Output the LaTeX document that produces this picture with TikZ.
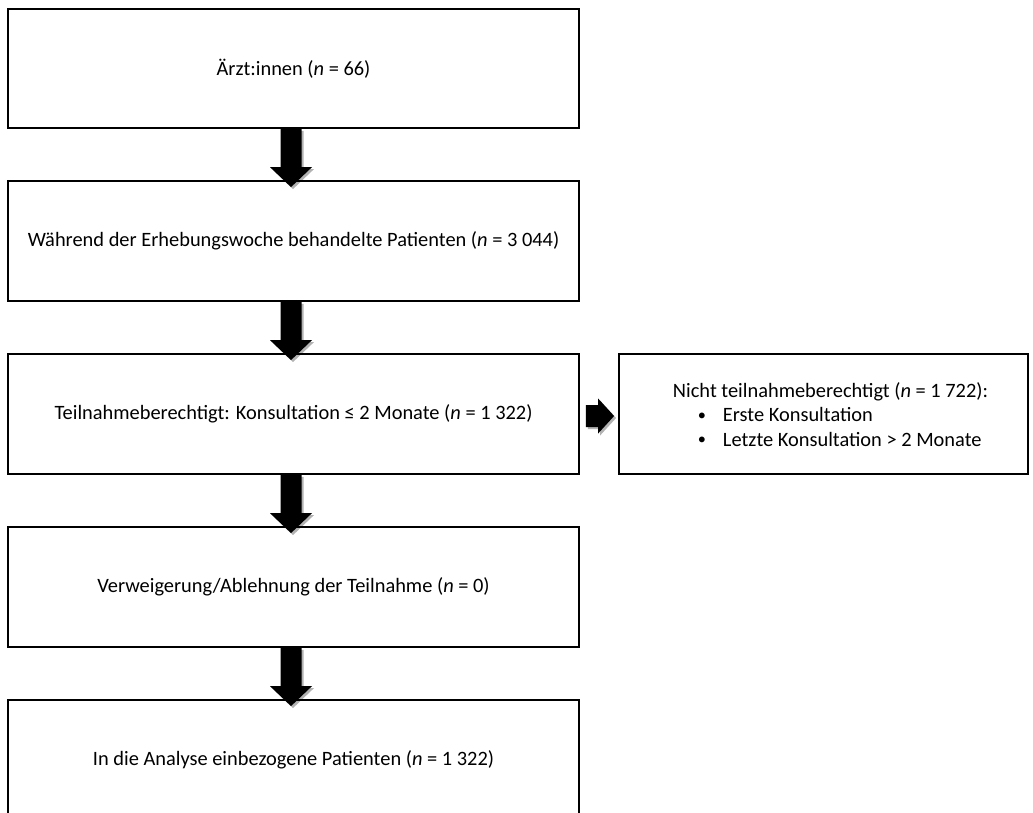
\documentclass[tikz,border=0pt]{standalone}
\usepackage{fontspec}
\setmainfont{Carlito}
\usetikzlibrary{calc,shadows}
\begin{document}
\begin{tikzpicture}[x=1pt,y=-1pt,
  box/.style={draw, line width=1.8pt, minimum width=571pt, minimum height=120pt,
    inner sep=0pt, align=center, font=\fontsize{20.4}{24.5}\selectfont},
  blockarrow/.style={fill=black,
    drop shadow={shadow xshift=2pt, shadow yshift=-2pt, opacity=0.3, fill=black}}]
\clip (0,0) rectangle (1033,812);

% main flow
\node[box, minimum height=119pt] (b1) at (293.5,68.5) {Ärzt:innen (\textit{n} = 66)};
\node[box] (b2) at (293.5,241) {Während der Erhebungswoche behandelte Patienten (\textit{n} = 3 044)};
\node[box] (b3) at (293.5,414) {Teilnahmeberechtigt: Konsultation ≤ 2 Monate (\textit{n} = 1 322)};
\node[box] (b4) at (293.5,587) {Verweigerung/Ablehnung der Teilnahme (\textit{n} = 0)};
\node[box] (b5) at (293.5,760) {In die Analyse einbezogene Patienten (\textit{n} = 1 322)};

% excluded patients
\node[box, minimum width=409pt] (ex) at (823.5,414) {};
\node[font=\fontsize{20.4}{24.5}\selectfont, inner sep=0pt] (extxt) at ($(ex.center)+(7,3)$) {%
  \begin{tabular}{@{}l@{}}
  \multicolumn{1}{@{}c@{}}{Nicht teilnahmeberechtigt (\textit{n} = 1 722):}\\
  \hspace*{25pt}\makebox[25pt][l]{\raisebox{0.15ex}{\scalebox{0.8}{\textbullet}}}Erste Konsultation\\
  \hspace*{25pt}\makebox[25pt][l]{\raisebox{0.15ex}{\scalebox{0.8}{\textbullet}}}Letzte Konsultation > 2 Monate
  \end{tabular}};

% downward block arrows
\newcommand\flowdown[2]{%
  \fill[blockarrow] ($(#1.south)+(-13,0)$) -- ($(#1.south)+(8,0)$)
    -- ($(#2.north)+(8,-13)$) -- ($(#2.north)+(18.5,-13)$)
    -- ($(#2.north)+(-2.5,7)$)
    -- ($(#2.north)+(-23.5,-13)$) -- ($(#2.north)+(-13,-13)$) -- cycle;}
\flowdown{b1}{b2}
\flowdown{b2}{b3}
\flowdown{b3}{b4}
\flowdown{b4}{b5}

% side arrow to the excluded box
\fill[blockarrow] ($(b3.east)+(6,-9)$) -- ($(ex.west)+(-20,-9)$)
  -- ($(ex.west)+(-20,-15.5)$) -- ($(ex.west)+(-4,2)$)
  -- ($(ex.west)+(-20,19.5)$) -- ($(ex.west)+(-20,13)$)
  -- ($(b3.east)+(6,13)$) -- cycle;
\end{tikzpicture}
\end{document}
